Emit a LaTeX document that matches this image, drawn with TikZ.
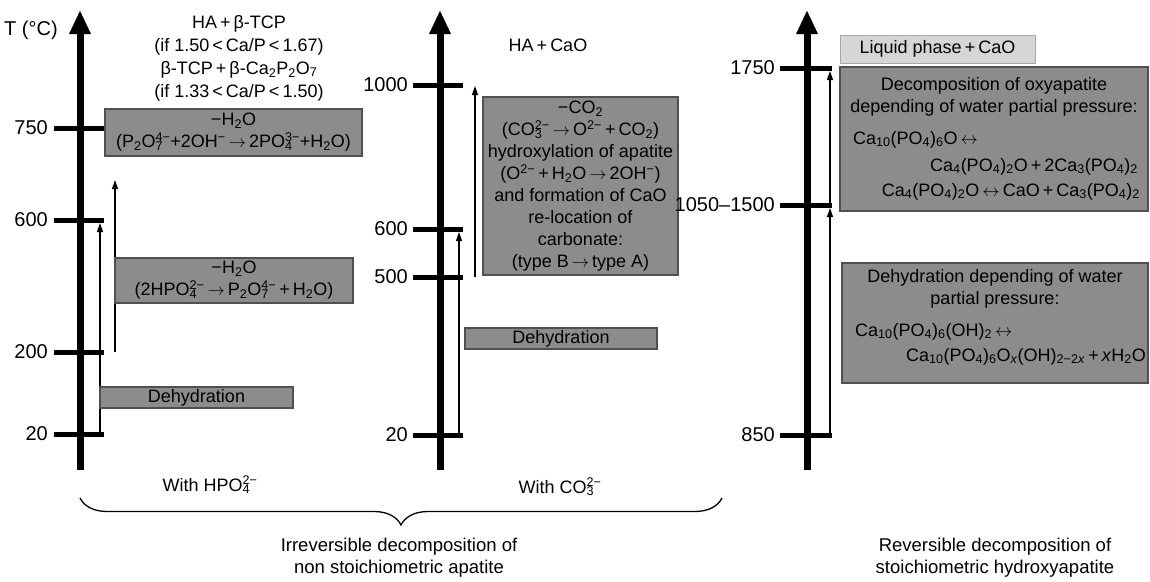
\documentclass[tikz,border=0pt]{standalone}
\usepackage{fontspec}
\setmainfont{Liberation Sans}
\usetikzlibrary{arrows.meta,decorations.pathreplacing}
\newcommand\sbsp[2]{\rlap{\textsubscript{#1}}\textsuperscript{#2}}
\newcommand\ra{\,\ensuremath{\rightarrow}\,}
\newcommand\lra{\,\ensuremath{\leftrightarrow}\,}
\definecolor{boxfill}{HTML}{8C8C8C}
\definecolor{boxedge}{HTML}{505050}
\definecolor{liqfill}{HTML}{D6D6D6}
\definecolor{liqedge}{HTML}{A8A8A8}
\begin{document}
\begin{tikzpicture}[x=1pt,y=-1pt,
  every node/.style={font=\fontsize{18}{22}\selectfont, inner sep=0pt},
  axisline/.style={line width=7pt, -{Triangle[length=24pt,width=20pt]}},
  tickline/.style={line width=5pt},
  thinarrow/.style={line width=1.2pt, -{Triangle[length=9pt,width=6pt]}},
  graybox/.style={draw=boxedge, fill=boxfill, line width=1.2pt, align=center},
  liqbox/.style={draw=liqedge, fill=liqfill, line width=1pt, align=center},
  ticklabel/.style={anchor=east, font=\fontsize{20}{24}\selectfont},
  bottomtext/.style={align=center, font=\fontsize{18.5}{22}\selectfont}]
\useasboundingbox (0,0) rectangle (1150,581);

% ---------- Left column ----------
\coordinate (LaB) at (80,470); \coordinate (LaT) at (80,10);
\draw[axisline] (LaB) -- (LaT);
\node[font=\fontsize{20}{24}\selectfont] (Tlab) at (31,30) {T (°C)};
\foreach \v/\y in {750/128,600/220,200/352,20/434}{
  \coordinate (Lt\v a) at (54,\y); \coordinate (Lt\v b) at (104,\y);
  \draw[tickline] (Lt\v a) -- (Lt\v b);
  \node[ticklabel] (Ll\v) at (48,\y) {\v};
}
\coordinate (A1s) at (100,434); \coordinate (A1e) at (100,223);
\draw[thinarrow] (A1s) -- (A1e);
\coordinate (A2s) at (115,352); \coordinate (A2e) at (115,180);
\draw[thinarrow] (A2s) -- (A2e);

\node[align=center, font=\fontsize{18}{23}\selectfont] (Ltop) at (239,58)
  {HA\,+\,β-TCP\\(if 1.50\,<\,Ca/P\,<\,1.67)\\β-TCP\,+\,β-Ca\textsubscript{2}P\textsubscript{2}O\textsubscript{7}\\(if 1.33\,<\,Ca/P\,<\,1.50)};
\node[graybox, minimum width=257pt, minimum height=47pt] (Lb1) at (233.5,132.5)
  {−H\textsubscript{2}O\\(P\textsubscript{2}O\sbsp{7}{4−}+2OH\textsuperscript{−}\ra 2PO\sbsp{4}{3−}+H\textsubscript{2}O)};
\node[graybox, minimum width=238pt, minimum height=45pt] (Lb2) at (234,280.5)
  {−H\textsubscript{2}O\\(2HPO\sbsp{4}{2−}\ra P\textsubscript{2}O\sbsp{7}{4−}\,+\,H\textsubscript{2}O)};
\node[graybox, minimum width=193pt, minimum height=21pt] (Lb3) at (196.5,397.5) {Dehydration};
\node (Lwith) at (210,485) {With HPO\sbsp{4}{2−}};

% ---------- Middle column ----------
\coordinate (MaB) at (440,470); \coordinate (MaT) at (440,10);
\draw[axisline] (MaB) -- (MaT);
\foreach \v/\y in {1000/85,600/229,500/277,20/435}{
  \coordinate (Mt\v a) at (413,\y); \coordinate (Mt\v b) at (463,\y);
  \draw[tickline] (Mt\v a) -- (Mt\v b);
  \node[ticklabel] (Ml\v) at (408,\y) {\v};
}
\coordinate (A3s) at (459,435); \coordinate (A3e) at (459,232);
\draw[thinarrow] (A3s) -- (A3e);
\coordinate (A4s) at (475,277); \coordinate (A4e) at (475,86);
\draw[thinarrow] (A4s) -- (A4e);
\node (Mtop) at (548,45) {HA\,+\,CaO};
\node[graybox, minimum width=195pt, minimum height=178pt] (Mb1) at (580.5,186)
  {−CO\textsubscript{2}\\(CO\sbsp{3}{2−}\ra O\textsuperscript{2−}\,+\,CO\textsubscript{2})\\hydroxylation of apatite\\(O\textsuperscript{2−}\,+\,H\textsubscript{2}O\ra 2OH\textsuperscript{−})\\and formation of CaO\\re-location of\\carbonate:\\(type B\ra type A)};
\node[graybox, minimum width=192pt, minimum height=21pt] (Mb2) at (561,338.5) {Dehydration};
\node (Mwith) at (560,487) {With CO\sbsp{3}{2−}};

% ---------- Right column ----------
\coordinate (RaB) at (807,470); \coordinate (RaT) at (807,10);
\draw[axisline] (RaB) -- (RaT);
\foreach \n/\v/\y in {a/1750/68,b/1050--1500/205,c/850/435}{
  \coordinate (Rt\n a) at (780,\y); \coordinate (Rt\n b) at (832,\y);
  \draw[tickline] (Rt\n a) -- (Rt\n b);
  \node[ticklabel] (Rl\n) at (775,\y) {\v};
}
\coordinate (A5s) at (830,435); \coordinate (A5e) at (830,208);
\draw[thinarrow] (A5s) -- (A5e);
\coordinate (A6s) at (830,205); \coordinate (A6e) at (830,71);
\draw[thinarrow] (A6s) -- (A6e);

\node[liqbox, minimum width=195pt, minimum height=28pt] (Rliq) at (937.5,49) {Liquid phase\,+\,CaO};
\node[graybox, minimum width=308pt, minimum height=144pt] (Rb1) at (994,139) {};
\node (Rb1t1) at (994,86) {Decomposition of oxyapatite};
\node (Rb1t2) at (994,108) {depending of water partial pressure:};
\node[anchor=base west] (Rb1t3) at (853,144) {Ca\textsubscript{10}(PO\textsubscript{4})\textsubscript{6}O\lra};
\node[anchor=base east] (Rb1t4) at (1138,171) {Ca\textsubscript{4}(PO\textsubscript{4})\textsubscript{2}O\,+\,2Ca\textsubscript{3}(PO\textsubscript{4})\textsubscript{2}};
\node[anchor=base east] (Rb1t5) at (1140,196) {Ca\textsubscript{4}(PO\textsubscript{4})\textsubscript{2}O\lra CaO\,+\,Ca\textsubscript{3}(PO\textsubscript{4})\textsubscript{2}};

\node[graybox, minimum width=306pt, minimum height=120pt] (Rb2) at (995,323) {};
\node (Rb2t1) at (995,278) {Dehydration depending of water};
\node (Rb2t2) at (995,300) {partial pressure:};
\node[anchor=base west] (Rb2t3) at (855,336) {Ca\textsubscript{10}(PO\textsubscript{4})\textsubscript{6}(OH)\textsubscript{2}\lra};
\node[anchor=base east] (Rb2t4) at (1146,361) {Ca\textsubscript{10}(PO\textsubscript{4})\textsubscript{6}O\textsubscript{\textit{x}}(OH)\textsubscript{2−2\textit{x}}\,+\,\textit{x}H\textsubscript{2}O};

% ---------- Bottom ----------
\coordinate (BrL) at (80,498); \coordinate (BrR) at (722,498);
\draw[line width=1.3pt, decorate, decoration={brace, mirror, amplitude=27pt}] (BrL) -- (BrR);
\node[bottomtext] (Irr) at (399,558) {Irreversible decomposition of\\non stoichiometric apatite};
\node[bottomtext] (Rev) at (995,558) {Reversible decomposition of\\stoichiometric hydroxyapatite};
\end{tikzpicture}
\end{document}
